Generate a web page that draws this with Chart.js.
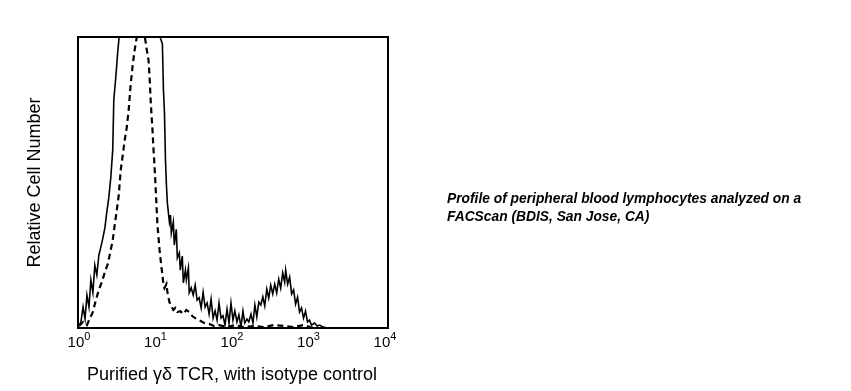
<!DOCTYPE html>
<html>
<head>
<meta charset="utf-8">
<script src="https://cdn.jsdelivr.net/npm/chart.js@4/dist/chart.umd.min.js"></script>
<style>
  html, body { margin: 0; padding: 0; background: #fff; }
  #wrap { position: relative; width: 851px; height: 391px; }
  #note { position: absolute; left: 447px; top: 190px; font: italic bold 13.8px "Liberation Sans", Arial, sans-serif; line-height: 18px; color: #000; white-space: nowrap; }
</style>
</head>
<body>
<div id="wrap">
  <canvas id="c" width="851" height="391"></canvas>
  <div id="note">Profile of peripheral blood lymphocytes analyzed on a<br>FACScan (BDIS, San Jose, CA)</div>
</div>
<script>
// Fluorescence intensity (x) and relative cell counts (y) for the specific stain (solid)
const stainX = [1.00,1.06,1.13,1.20,1.27,1.35,1.43,1.52,1.61,1.71,1.82,1.93,2.05,2.18,2.31,2.45,2.60,2.76,2.85,3.02,3.21,3.41,3.96,4.60,6.20,8.36,10.6,11.6,12.3,12.7,13.1,13.5,13.9,14.3,15.2,15.7,16.1,17.1,17.6,18.7,19.3,20.5,21.1,22.4,23.1,24.6,25.3,26.9,27.6,29.3,31.1,33.0,35.0,37.2,39.5,41.9,44.5,47.3,50.2,53.3,56.6,60.1,63.8,67.7,71.9,76.3,81.0,86.1,91.4,97.0,103,109,116,123,131,139,147,157,166,177,188,199,211,224,238,253,268,285,302,321,341,362,384,408,433,460,488,503,534,567,602,639,678,720,764,811,861,914,970,1030,1093,1200,1300,1400,1560,1800];
const stainY = [0.7,2.1,7.2,3.1,11.3,7.2,16.5,12.1,21.6,18.2,25.1,27.8,30.9,34.4,39.9,44.7,51.5,61.2,78.3,85.9,94.8,102.4,106,107.5,109,109,106,99.6,97.6,81.8,73.9,57.7,49.1,42.9,36.4,38.8,32.6,36.4,28.5,33.9,24.1,25.8,19.9,24.7,15.5,19.9,16.5,20.6,12.1,13.8,11.3,14.7,9.6,10.4,6.9,12.3,7.2,8.6,4.8,9.9,3.4,5.9,2.7,8.6,3.4,4.2,1.1,6.5,1.7,8.6,2.7,5.9,2.1,4.5,0.4,5.8,1.7,3.1,2.1,4.8,1.7,7.9,3.8,8.9,7.9,10.7,7.6,13.4,10.3,14.7,11.7,15.1,12.1,16.8,13.7,18.9,15.8,19.9,15.1,17.5,11.7,13.1,8.2,10.6,5.5,6.9,3.4,5.8,2.1,2.7,1.0,1.7,0.7,1.0,0.3,0];
// Isotype control (dashed)
const isoX = [1.00,1.13,1.27,1.39,1.52,1.66,1.82,1.99,2.18,2.38,2.60,2.76,2.93,3.12,3.31,3.51,3.73,3.96,4.20,4.46,4.73,5.03,5.34,5.66,6.01,6.58,7.19,7.63,8.10,8.35,8.60,8.87,9.14,9.42,9.70,10.0,10.3,10.6,11.3,12.0,12.3,12.7,13.1,13.9,14.3,15.2,16.1,17.1,18.2,19.3,21.1,23.1,25.3,27.6,30.2,33.0,37.2,43.3,50.2,58.1,67.7,86,109,143,193,261,350,470,640,860,1060,1260];
const isoY = [0.7,2.1,1.0,3.4,5.5,9.6,13.1,15.8,19.2,22.0,26.8,30.2,35.4,40.5,45.7,54.3,59.4,64.6,68.7,74.9,83.5,90.4,95.5,99.6,102,104,100.7,96.2,92.1,86.9,79.4,73.2,68.0,61.2,56.0,49.1,42.3,35.4,26.8,20.6,18.6,14.8,13.7,15.1,12.4,8.9,7.6,6.2,6.9,5.5,5.8,4.8,6.2,5.5,4.1,3.4,2.7,1.7,1.4,0.7,1.0,0.3,1.0,0.3,0.7,0.3,1.0,0.7,0.3,1.0,0.3,0];
const tickValues = [1, 10, 100, 1000, 10000];
const tickBase = '10';
const tickExps = ['0', '1', '2', '3', '4'];
const xTitle = 'Purified \u03B3\u03B4 TCR, with isotype control';
const yTitle = 'Relative Cell Number';

const toPts = (xs, ys) => xs.map((x, i) => ({x: x, y: ys[i]}));

const framePlugin = {
  id: 'frame',
  afterDatasetsDraw(chart) {
    const a = chart.chartArea, ctx = chart.ctx;
    ctx.save();
    ctx.strokeStyle = '#000';
    ctx.lineWidth = 2;
    ctx.strokeRect(a.left - 1, a.top, a.right - a.left + 4, a.bottom - a.top);
    // power-of-ten tick labels with superscript exponents
    const xs = chart.scales.x;
    ctx.fillStyle = '#000';
    ctx.textBaseline = 'alphabetic';
    ctx.textAlign = 'left';
    tickValues.forEach((v, i) => {
      const px = xs.getPixelForValue(v);
      ctx.font = '15px "Liberation Sans", Arial';
      const wb = ctx.measureText(tickBase).width;
      ctx.font = '11px "Liberation Sans", Arial';
      const we = ctx.measureText(tickExps[i]).width;
      const x0 = px - (wb + we) / 2;
      ctx.font = '15px "Liberation Sans", Arial';
      ctx.fillText(tickBase, x0, a.bottom + 19);
      ctx.font = '11px "Liberation Sans", Arial';
      ctx.fillText(tickExps[i], x0 + wb, a.bottom + 12);
    });
    ctx.restore();
  }
};

new Chart(document.getElementById('c'), {
  type: 'line',
  data: {
    datasets: [
      { label: 'TCR', data: toPts(stainX, stainY), borderColor: '#000', borderWidth: 1.6, pointRadius: 0, tension: 0, fill: false },
      { label: 'Isotype', data: toPts(isoX, isoY), borderColor: '#000', borderWidth: 2.2, borderDash: [6, 4], pointRadius: 0, tension: 0, fill: false }
    ]
  },
  options: {
    responsive: false,
    animation: false,
    events: [],
    layout: { padding: { top: 37, right: 466, left: 0, bottom: 0 } },
    plugins: { legend: { display: false }, tooltip: { enabled: false } },
    scales: {
      x: {
        type: 'logarithmic', min: 1, max: 10000,
        grid: { display: false, drawTicks: false },
        border: { display: false },
        afterFit(s) { s.height = 63; },
        afterBuildTicks(s) { s.ticks = tickValues.map(v => ({value: v})); },
        ticks: { autoSkip: false, maxRotation: 0, callback: () => '' },
        title: { display: true, text: xTitle, color: '#000', font: { family: 'Liberation Sans, Arial', size: 18 }, padding: { top: 0, bottom: 5 } }
      },
      y: {
        min: 0, max: 100,
        grid: { display: false, drawTicks: false },
        border: { display: false },
        ticks: { display: false },
        afterFit(s) { s.width = 79; },
        title: { display: true, text: yTitle, color: '#000', font: { family: 'Liberation Sans, Arial', size: 18 }, padding: { top: 24, bottom: 0 } }
      }
    }
  },
  plugins: [framePlugin]
});
</script>
</body>
</html>
